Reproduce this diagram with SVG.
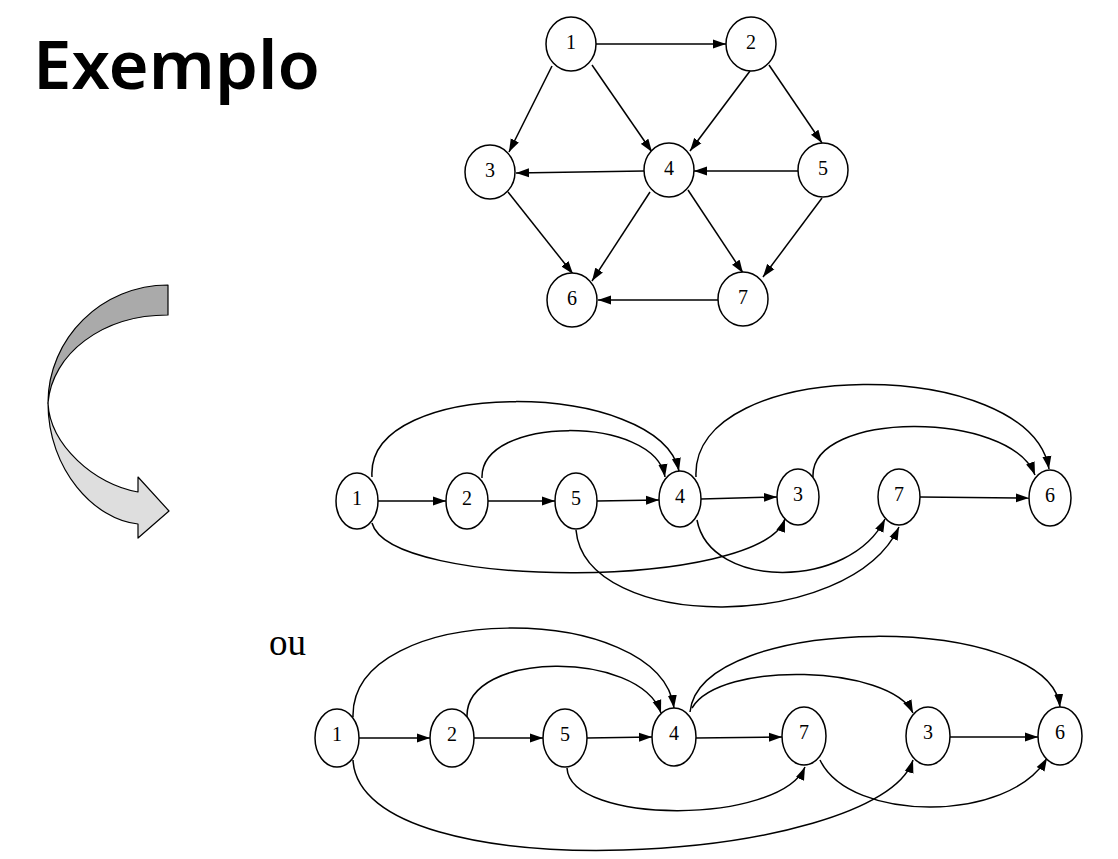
<svg xmlns="http://www.w3.org/2000/svg" width="1118" height="859" viewBox="0 0 1118 859">
<style>
.n ellipse{fill:#fff;stroke:#000;stroke-width:1.5}
.n text{font-family:"Liberation Serif","Times New Roman",serif;font-size:20px;text-anchor:middle;fill:#000}
.e path{fill:none;stroke:#000;stroke-width:1.5;marker-end:url(#ah)}
</style>
<defs>
<marker id="ah" markerUnits="userSpaceOnUse" markerWidth="13" markerHeight="10" refX="13" refY="5" orient="auto"><path d="M0,0.5 L13,5 L0,9.5 Z" fill="#000"/></marker>
</defs>
<rect width="1118" height="859" fill="#fff"/>
<text x="33" y="89" font-family="'Noto Sans','Open Sans',sans-serif" font-weight="600" font-size="66" textLength="287" lengthAdjust="spacingAndGlyphs">Exemplo</text>
<text x="269" y="655" font-family="'Liberation Serif','Times New Roman',serif" font-size="37">ou</text>
<g id="bigarrow" stroke="#000" stroke-width="1.2" stroke-linejoin="round">
<path d="M168,285 C102,285 48,338 48,403 C52,354 102,315 168,315 Z" fill="#aaaaaa"/>
<path d="M48,403 C50,445 95,485 138,492 L138,477 L169,511 L138,538 L138,524 C95,520 48,470 48,403 Z" fill="#dedede"/>
</g>
<g id="edges" class="e">
<path d="M596,44 L726,44"/>
<path d="M552,66 L509,152"/>
<path d="M592,65 L652,152"/>
<path d="M750,71 L690,151"/>
<path d="M769,65 L822,143"/>
<path d="M644,171 L516,173"/>
<path d="M798,171 L694,171"/>
<path d="M508,192 L573,274"/>
<path d="M650,192 L592,281"/>
<path d="M688,190 L743,273"/>
<path d="M822,198 L763,277"/>
<path d="M718,300 L598,300"/>
<path d="M378,501 L446,501"/>
<path d="M488,501 L555,501"/>
<path d="M597,501 L659,500"/>
<path d="M701,499 L777,497"/>
<path d="M920,497 L1029,498"/>
<path d="M372,477 C365,375 660,380 679,471"/>
<path d="M482,478 C480,415 655,415 665,477"/>
<path d="M372,523 C390,590 760,590 785,519"/>
<path d="M576,530 C585,633 850,633 899,527"/>
<path d="M697,520 C710,590 850,590 885,519"/>
<path d="M696,477 C690,355 1030,355 1049,469"/>
<path d="M813,477 C810,410 1010,410 1035,475"/>
<path d="M359,738 L430,738"/>
<path d="M474,738 L543,738"/>
<path d="M587,738 L652,737"/>
<path d="M696,738 L782,737"/>
<path d="M950,737 L1038,737"/>
<path d="M353,717 C350,600 660,600 674,708"/>
<path d="M467,717 C465,650 640,650 661,713"/>
<path d="M690,712 C700,612 1050,612 1060,707"/>
<path d="M692,708 C720,660 890,665 913,713"/>
<path d="M567,768 C570,825 780,825 805,767"/>
<path d="M353,760 C360,895 880,865 913,760"/>
<path d="M820,760 C850,823 1010,823 1047,758"/>
</g>
<g id="t1" class="n"><ellipse cx="571" cy="44" rx="25" ry="27"/><text x="571" y="49">1</text></g>
<g id="t2" class="n"><ellipse cx="751" cy="44" rx="25" ry="27"/><text x="751" y="49">2</text></g>
<g id="t3" class="n"><ellipse cx="490" cy="172" rx="25" ry="27"/><text x="490" y="177">3</text></g>
<g id="t4" class="n"><ellipse cx="669" cy="170" rx="25" ry="27"/><text x="669" y="175">4</text></g>
<g id="t5" class="n"><ellipse cx="823" cy="170" rx="25" ry="27"/><text x="823" y="175">5</text></g>
<g id="t6" class="n"><ellipse cx="572" cy="300" rx="25" ry="27"/><text x="572" y="305">6</text></g>
<g id="t7" class="n"><ellipse cx="743" cy="299" rx="25" ry="27"/><text x="743" y="304">7</text></g>
<g id="m1" class="n"><ellipse cx="357" cy="501" rx="21" ry="28"/><text x="357" y="505">1</text></g>
<g id="m2" class="n"><ellipse cx="467" cy="501" rx="21" ry="28"/><text x="467" y="505">2</text></g>
<g id="m5" class="n"><ellipse cx="576" cy="501" rx="21" ry="28"/><text x="576" y="505">5</text></g>
<g id="m4" class="n"><ellipse cx="680" cy="499" rx="21" ry="28"/><text x="680" y="503">4</text></g>
<g id="m3" class="n"><ellipse cx="798" cy="497" rx="21" ry="28"/><text x="798" y="501">3</text></g>
<g id="m7" class="n"><ellipse cx="899" cy="497" rx="21" ry="28"/><text x="899" y="501">7</text></g>
<g id="m6" class="n"><ellipse cx="1050" cy="498" rx="21" ry="28"/><text x="1050" y="502">6</text></g>
<g id="b1" class="n"><ellipse cx="337" cy="738" rx="22" ry="29"/><text x="337" y="741">1</text></g>
<g id="b2" class="n"><ellipse cx="452" cy="738" rx="22" ry="29"/><text x="452" y="741">2</text></g>
<g id="b5" class="n"><ellipse cx="565" cy="738" rx="22" ry="29"/><text x="565" y="741">5</text></g>
<g id="b4" class="n"><ellipse cx="674" cy="737" rx="22" ry="29"/><text x="674" y="740">4</text></g>
<g id="b7" class="n"><ellipse cx="804" cy="736" rx="22" ry="29"/><text x="804" y="739">7</text></g>
<g id="b3" class="n"><ellipse cx="928" cy="736" rx="22" ry="29"/><text x="928" y="739">3</text></g>
<g id="b6" class="n"><ellipse cx="1060" cy="736" rx="22" ry="29"/><text x="1060" y="739">6</text></g>
</svg>
